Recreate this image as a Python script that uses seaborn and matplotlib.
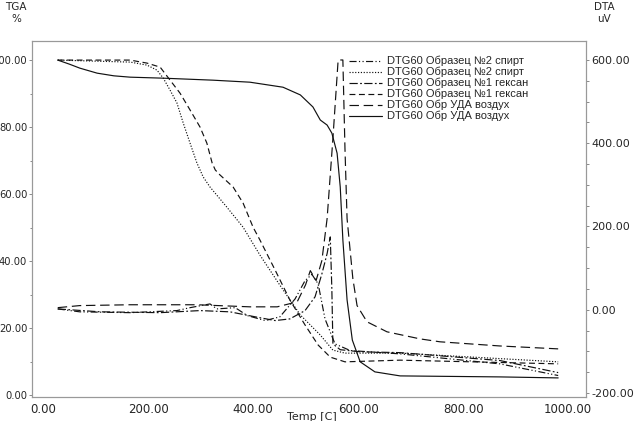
import matplotlib
matplotlib.use("Agg")
import matplotlib.pyplot as plt
import seaborn as sns
from matplotlib.lines import Line2D
from matplotlib.ticker import MultipleLocator, FormatStrFormatter

# TGA, sample 2 (alcohol) - dotted
t_tga2 = [28, 166, 198, 217, 229, 242, 255, 267, 280, 293, 305, 318, 350, 381, 413,
          451, 490, 528, 552, 575, 680, 981]
tga2 = [100, 99.4, 98.5, 97.0, 94.6, 91.0, 87.2, 81.2, 75.2, 69.3, 65.1, 62.1, 56.1,
        50.1, 41.8, 32.8, 23.9, 17.9, 13.4, 12.5, 12.5, 9.9]

# TGA, sample 1 (hexane) - dashed
t_tga1 = [28, 166, 198, 223, 242, 261, 280, 299, 312, 322, 328, 337, 362, 381, 400,
          413, 442, 470, 499, 524, 547, 575, 680, 981]
tga1 = [100, 100, 99.1, 97.9, 94.0, 90.1, 85.1, 80.0, 75.2, 69.3, 67.2, 65.7, 62.1,
        57.3, 50.1, 46.3, 37.3, 28.4, 20.9, 14.9, 11.3, 9.9, 10.4, 9.3]

# TGA, UDA air - solid
t_tga_uda = [28, 50, 70, 103, 135, 166, 229, 324, 394, 457, 490, 514, 528, 541, 550,
             560, 566, 571, 579, 589, 604, 632, 680, 870, 981]
tga_uda = [100, 98.8, 97.6, 96.1, 95.3, 94.9, 94.6, 94.0, 93.4, 91.9, 89.6, 86.0, 82.1,
           80.6, 78.2, 72.2, 62.1, 46.3, 28.4, 16.4, 9.9, 6.9, 5.7, 5.4, 5.1]

# DTA, sample 2 (alcohol) - dash-dot-dot
t_dta2 = [28, 70, 166, 255, 280, 318, 331, 366, 389, 423, 451, 480, 499, 512, 524,
          537, 556, 585, 680, 870, 981]
dta2 = [2, -5, -7, -2, 5, 14, 2, 5, -14, -26, -17, 26, 70, 85, 62, -22, -82, -98,
        -106, -130, -158]

# DTA, sample 1 (hexane) - dash-dot
t_dta1 = [28, 109, 223, 299, 356, 404, 442, 470, 499, 518, 531, 541, 547, 550, 552,
          566, 604, 680, 870, 981]
dta1 = [2, -5, -7, -2, -5, -17, -26, -22, -2, 31, 86, 135, 175, 50, -82, -96, -101,
        -103, -122, -151]

# DTA, UDA air - long dashed
t_dta_uda = [28, 70, 166, 293, 394, 446, 484, 500, 509, 520, 531, 541, 552, 562, 571,
             575, 579, 590, 598, 617, 655, 718, 756, 870, 981]
dta_uda = [5, 10, 12, 12, 7, 7, 19, 60, 94, 70, 118, 219, 411, 600, 600, 387, 219,
           75, 10, -29, -53, -70, -77, -87, -94]

labels = ["DTG60 Образец №2 спирт", "DTG60 Образец №2 спирт",
          "DTG60 Образец №1 гексан", "DTG60 Образец №1 гексан",
          "DTG60 Обр УДА воздух", "DTG60 Обр УДА воздух"]

sns.set_style("white")
plt.rcParams['font.family'] = ['DejaVu Sans']
plt.rcParams['axes.unicode_minus'] = False

fig = plt.figure(figsize=(6.34, 4.21), dpi=100)
ax = fig.add_axes([32 / 634, 1 - 397 / 421, (586 - 32) / 634, (397 - 41) / 421])
ax2 = ax.twinx()

c = "#111111"
lw = 0.85
styles = {
    "dd": (0, (6, 2, 1, 2, 1, 2)),
    "dot": (0, (1, 1.4)),
    "dash_dot": (0, (7, 2, 1.5, 2)),
    "dash": (0, (5, 3)),
    "long": (0, (8, 4)),
    "solid": "-",
}

sns.lineplot(x=t_tga2, y=tga2, ax=ax, color=c, lw=lw, linestyle=styles["dot"], sort=False)
sns.lineplot(x=t_tga1, y=tga1, ax=ax, color=c, lw=lw, linestyle=styles["dash"], sort=False)
sns.lineplot(x=t_tga_uda, y=tga_uda, ax=ax, color=c, lw=lw, linestyle="-", sort=False)
sns.lineplot(x=t_dta2, y=dta2, ax=ax2, color=c, lw=lw, linestyle=styles["dd"], sort=False)
sns.lineplot(x=t_dta1, y=dta1, ax=ax2, color=c, lw=lw, linestyle=styles["dash_dot"], sort=False)
sns.lineplot(x=t_dta_uda, y=dta_uda, ax=ax2, color=c, lw=lw, linestyle=styles["long"], sort=False)

ax.set_xlim(-21, 1034)
ax.set_ylim(-0.6, 105.7)
ax2.set_ylim(-209.6, 645.6)

ax.xaxis.set_major_locator(MultipleLocator(200))
ax.xaxis.set_minor_locator(MultipleLocator(50))
ax.yaxis.set_major_locator(MultipleLocator(20))
ax.yaxis.set_minor_locator(MultipleLocator(10))
ax2.yaxis.set_major_locator(MultipleLocator(200))
ax2.yaxis.set_minor_locator(MultipleLocator(50))
for a in (ax.xaxis, ax.yaxis, ax2.yaxis):
    a.set_major_formatter(FormatStrFormatter("%.2f"))

for a in (ax, ax2):
    a.tick_params(which="both", direction="out", color="#777777",
                  width=0.6, length=2.5, pad=1)
    a.tick_params(which="minor", length=1.8)
    for s in a.spines.values():
        s.set_color("#999999")
        s.set_linewidth(0.8)
ax.tick_params(axis="x", labelsize=8.5, pad=2)
ax.tick_params(axis="y", labelsize=7.2)
ax2.tick_params(axis="y", labelsize=8, pad=1.5)
ax.set_xlabel("")
ax.set_ylabel("")
ax2.set_ylabel("")

fig.text(16 / 634, 1 - 13 / 421, "TGA\n%", ha="center", va="center", fontsize=7.5,
         linespacing=1.15)
fig.text(604 / 634, 1 - 13 / 421, "DTA\nuV", ha="center", va="center", fontsize=7.5,
         linespacing=1.15)
fig.text(312 / 634, 1 - 417 / 421, "Temp [C]", ha="center", va="center", fontsize=8)

handles = [Line2D([], [], color=c, lw=lw, linestyle=styles[k])
           for k in ["dd", "dot", "dash_dot", "dash", "long", "solid"]]
leg = ax.legend(handles, labels, loc="upper left", bbox_to_anchor=(349 / 634, 1 - 56 / 421),
                bbox_transform=fig.transFigure, frameon=False,
                handlelength=3.0, handletextpad=0.45, labelspacing=0.05,
                borderaxespad=0, borderpad=0,
                prop={"family": "Liberation Sans", "size": 8})

fig.savefig("out.png", dpi=100)
